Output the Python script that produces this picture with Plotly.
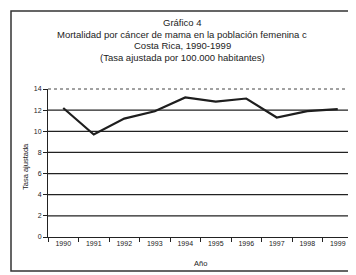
import plotly.graph_objects as go

years = ["1990", "1991", "1992", "1993", "1994", "1995", "1996", "1997", "1998", "1999"]
rate = [12.2, 9.7, 11.2, 11.9, 13.2, 12.8, 13.1, 11.3, 11.9, 12.1]
y_ticks = [0, 2, 4, 6, 8, 10, 12, 14]

title_lines = [
    "Gráfico 4",
    "Mortalidad por cáncer de mama en la población femenina c",
    "Costa Rica, 1990-1999",
    "(Tasa ajustada por 100.000 habitantes)",
]
x_title = "Año"
y_title = "Tasa ajustada"

FONT = "Liberation Sans, Arial, sans-serif"
L, R, T, B, W, H = 40, 11, 81, 46, 356, 275
PW, PH = W - L - R, H - T - B


def px_x(p):
    return (p - L) / PW


def px_y(p):
    return (H - B - p) / PH


fig = go.Figure()
fig.add_trace(go.Scatter(x=years, y=rate, mode="lines",
                         line=dict(color="#1e1e1e", width=2.2), showlegend=False))

shapes = []
for v in y_ticks[1:-1]:
    shapes.append(dict(type="line", xref="paper", yref="y", x0=0, x1=1, y0=v, y1=v,
                       line=dict(color="#222", width=1.2), layer="below"))
shapes.append(dict(type="line", xref="paper", yref="paper", x0=0, x1=1, y0=1, y1=1,
                   line=dict(color="#444", width=1, dash="dot")))
shapes.append(dict(type="line", xref="paper", yref="paper", x0=1, x1=1, y0=0, y1=1,
                   line=dict(color="#444", width=1, dash="dot")))
shapes.append(dict(type="rect", xref="paper", yref="paper", x0=px_x(3), x1=px_x(350),
                   y0=px_y(263), y1=px_y(3), line=dict(color="#333", width=1.5)))

annotations = []
for txt, ypx in zip(title_lines, [15, 27, 38, 49]):
    annotations.append(dict(text=txt, xref="paper", yref="paper",
                            x=px_x(174), y=px_y(ypx),
                            showarrow=False, xanchor="center", yanchor="middle",
                            font=dict(family=FONT, size=9.5, color="#222")))
annotations.append(dict(text=x_title, xref="paper", yref="paper", x=px_x(192), y=px_y(255),
                        showarrow=False, xanchor="center", yanchor="middle",
                        font=dict(family=FONT, size=7.5, color="#222")))
annotations.append(dict(text=y_title, xref="paper", yref="paper", x=px_x(17), y=px_y(158),
                        showarrow=False, xanchor="center", yanchor="middle", textangle=-90,
                        font=dict(family=FONT, size=7.5, color="#222")))

fig.update_layout(
    width=W, height=H,
    margin=dict(l=L, r=R, t=T, b=B),
    paper_bgcolor="white", plot_bgcolor="white",
    font=dict(family=FONT, size=7, color="#222"),
    shapes=shapes, annotations=annotations,
    xaxis=dict(type="category", range=[-0.5, 9.5], tickson="boundaries",
               ticks="outside", ticklen=4, tickcolor="#222", showline=True,
               linecolor="#222", linewidth=1, showgrid=False, automargin=False,
               tickfont=dict(size=7)),
    yaxis=dict(range=[0, 14], tickvals=y_ticks, ticks="outside", ticklen=4,
               tickcolor="#222", showline=True, linecolor="#222", linewidth=1,
               showgrid=False, zeroline=False, automargin=False,
               tickfont=dict(size=7)),
)

fig.write_html("out.html")
